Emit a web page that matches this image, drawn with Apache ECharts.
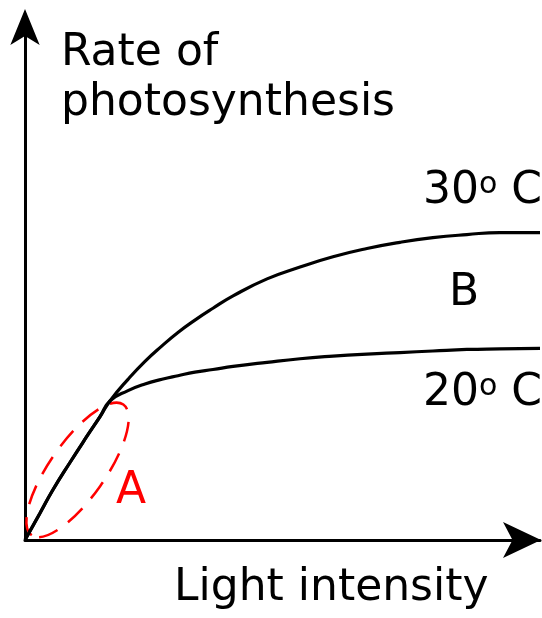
<!DOCTYPE html>
<html>
<head>
<meta charset="utf-8">
<style>
  html, body { margin: 0; padding: 0; background: #fff; }
  #chart { width: 542px; height: 618px; }
</style>
<script src="https://cdn.jsdelivr.net/npm/echarts@6/dist/echarts.min.js"></script>
</head>
<body>
<div id="chart"></div>
<script>
// light intensity (arbitrary units), shared by both curves
var intensity = [0, 2.9, 5.4, 8.7, 12.0, 14.6, 16.5, 20.0, 23.3, 26.6, 29.7, 33.0, 36.5, 40.4, 47.0, 53.4, 59.8, 66.4, 72.8, 79.2, 85.8, 92.2, 100]
// rate of photosynthesis at 30 C and 20 C (same until light stops being the limit)
var rate30 = [0, 5.2, 9.7, 15.0, 20.1, 24.0, 27.0, 31.2, 34.7, 37.7, 40.3, 42.7, 45.0, 47.4, 50.7, 53.0, 55.0, 56.6, 57.8, 58.7, 59.3, 59.7, 59.7]
var rate20 = [0, 5.2, 9.7, 15.0, 20.1, 24.0, 27.0, 29.0, 30.3, 31.2, 31.9, 32.6, 33.1, 33.7, 34.5, 35.2, 35.7, 36.1, 36.4, 36.7, 37.0, 37.1, 37.2]
// region A (limited by light): centre and half sizes, in axis units
var regionA = [[10.2, 13.6]]
var regionASize = [15.5, 5.4]

var FONT = '"DejaVu Sans", sans-serif'

function pairs (xs, ys) {
  return xs.map(function (x, i) { return [x, ys[i]] })
}

function curve (name, data) {
  return {
    name: name,
    type: 'line',
    data: pairs(intensity, data),
    smooth: 0.5,
    showSymbol: false,
    clip: false,
    lineStyle: { color: '#000', width: 3.2 }
  }
}

function label (text, x, y, color) {
  return {
    type: 'text',
    x: x,
    y: y,
    style: {
      text: text,
      font: '44px ' + FONT,
      fill: color || '#000',
      align: 'left',
      textAlign: 'left',
      verticalAlign: 'middle',
      textVerticalAlign: 'middle'
    }
  }
}

function tempLabel (deg, y) {
  return {
    type: 'text',
    x: 542,
    y: y,
    style: {
      text: '{n|' + deg + '}{s|o}{n| C}',
      align: 'right',
      textAlign: 'right',
      verticalAlign: 'middle',
      textVerticalAlign: 'middle',
      rich: {
        n: { font: '44px ' + FONT, fill: '#000', lineHeight: 44 },
        s: { font: '30px ' + FONT, fill: '#000', lineHeight: 30, verticalAlign: 'top' }
      }
    }
  }
}

var chart = echarts.init(document.getElementById('chart'))
chart.setOption({
  animation: false,
  backgroundColor: '#fff',
  grid: { left: 25, right: 2, top: 25, bottom: 78 },
  xAxis: {
    type: 'value',
    min: 0,
    max: 100,
    axisLine: {
      symbol: ['none', 'arrow'],
      symbolSize: [27, 38],
      symbolOffset: [0, 1],
      lineStyle: { color: '#000', width: 3 }
    },
    axisTick: { show: false },
    axisLabel: { show: false },
    splitLine: { show: false }
  },
  yAxis: {
    type: 'value',
    min: 0,
    max: 100,
    axisLine: {
      show: true,
      symbol: ['none', 'arrow'],
      symbolSize: [22, 36],
      symbolOffset: [0, 16],
      lineStyle: { color: '#000', width: 3 }
    },
    axisTick: { show: false },
    axisLabel: { show: false },
    splitLine: { show: false }
  },
  series: [
    curve('30o C', rate30),
    curve('20o C', rate20),
    {
      name: 'A',
      type: 'custom',
      clip: false,
      data: regionA,
      renderItem: function (params, api) {
        var c = api.coord([api.value(0), api.value(1)])
        var s = api.size(regionASize, [api.value(0), api.value(1)])
        return {
          type: 'ellipse',
          x: c[0],
          y: c[1],
          rotation: 55 * Math.PI / 180,
          shape: { cx: 0, cy: 0, rx: s[0], ry: s[1] },
          style: { fill: 'none', stroke: '#ff0000', lineWidth: 2.5, lineDash: [20, 13] }
        }
      }
    }
  ],
  graphic: [
    label('Rate of', 61, 54),
    label('photosynthesis', 61, 104),
    label('Light intensity', 174, 589),
    tempLabel('30', 192),
    tempLabel('20', 394),
    label('B', 449, 294),
    label('A', 116, 492, '#ff0000')
  ]
})
</script>
</body>
</html>
